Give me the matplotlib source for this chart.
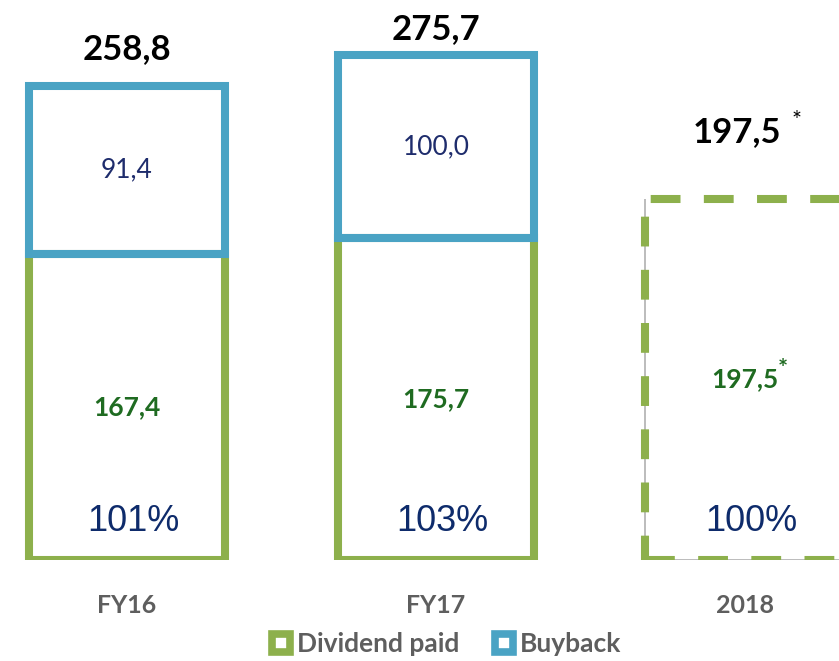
import matplotlib
matplotlib.use("Agg")
import matplotlib.pyplot as plt
from matplotlib.lines import Line2D

# datos del grafico
categorias = ["FY16", "FY17", "2018"]
dividendo = [167.4, 175.7, 197.5]
recompra = [91.4, 100.0, 0.0]
totales = ["258,8", "275,7", "197,5"]
etiq_div = ["167,4", "175,7", "197,5"]
etiq_rec = ["91,4", "100,0", ""]
porcentajes = ["101%", "103%", "100%"]

verde = "#8DB04C"
azul = "#4AA3C4"
verde_txt = "#1F6B21"
azul_txt = "#1E2C6C"
navy = "#0E2B6B"
gris = "#5E5E5E"

plt.rcParams["font.family"] = ["Lato", "DejaVu Sans"]

fig = plt.figure(figsize=(8.39, 6.61), dpi=100)
ax = fig.add_axes([0, 0.1528, 1, 0.8472])
ax.set_xlim(-0.411, 2.304)
ax.set_ylim(0, 306)
ax.axis("off")

x = list(range(len(categorias)))
ancho = 0.635
lw = 5.8

for i in x:
    if recompra[i] > 0:
        ax.bar(i, dividendo[i], ancho, fill=False, edgecolor=verde, linewidth=lw, zorder=2)
        ax.bar(i, recompra[i], ancho, bottom=dividendo[i], fill=False,
               edgecolor=azul, linewidth=lw, zorder=3)
        ax.text(i, dividendo[i] + recompra[i] / 2, etiq_rec[i], ha="center", va="center",
                fontsize=19, color=azul_txt)
    else:
        # barra estimada punteada, con sombra gris a la izquierda y abajo
        b = ax.bar(i, dividendo[i], ancho + 0.01, fill=False, edgecolor=verde, linewidth=lw,
                   linestyle=(0, (3.7, 2.9)), zorder=3)[0]
        x0 = b.get_x()
        ax.plot([x0, x0, x0 + b.get_width() + 1], [b.get_height(), 0, 0],
                color="#B0B0B0", linewidth=1.2, zorder=2, solid_capstyle="butt")
    ax.text(i, dividendo[i] / 2, etiq_div[i], ha="center", va="center",
            fontsize=19, color=verde_txt, fontweight="bold")
    ax.text(i + 0.02, 21, porcentajes[i], ha="center", va="center", fontsize=26,
            color=navy, family=["Liberation Sans"])
    ax.text(i, -25, categorias[i], ha="center", va="center", fontsize=18,
            color=gris, fontweight="bold", clip_on=False)

# totales encima de las barras
desp = [(0, 27), (0, 19), (-6, 48)]
for i in x:
    tot = dividendo[i] + recompra[i]
    ax.annotate(totales[i], (i, tot), xytext=desp[i], textcoords="offset points",
                ha="center", va="center", fontsize=25, fontweight="bold", color="black")

# asteriscos de 2018
ax.annotate("*", (2, dividendo[2]), xytext=(37, 56), textcoords="offset points",
            ha="center", va="center", fontsize=17, color="black")
ax.annotate("*", (2, dividendo[2] / 2), xytext=(27, 7), textcoords="offset points",
            ha="center", va="center", fontsize=17, color=verde_txt, fontweight="bold")

handles = [
    Line2D([], [], linestyle="none", marker="s", markersize=13, markerfacecolor="white",
           markeredgecolor=verde, markeredgewidth=5.5),
    Line2D([], [], linestyle="none", marker="s", markersize=13, markerfacecolor="white",
           markeredgecolor=azul, markeredgewidth=5.5),
]
leg = fig.legend(handles, ["Dividend paid", "Buyback"], loc="center",
                 bbox_to_anchor=(0.53, 0.025), ncol=2, frameon=False,
                 prop={"size": 19, "weight": "bold"}, handletextpad=0.1,
                 columnspacing=1.2, handlelength=1.0)
for t in leg.get_texts():
    t.set_color(gris)

fig.savefig("out.png", dpi=100)
